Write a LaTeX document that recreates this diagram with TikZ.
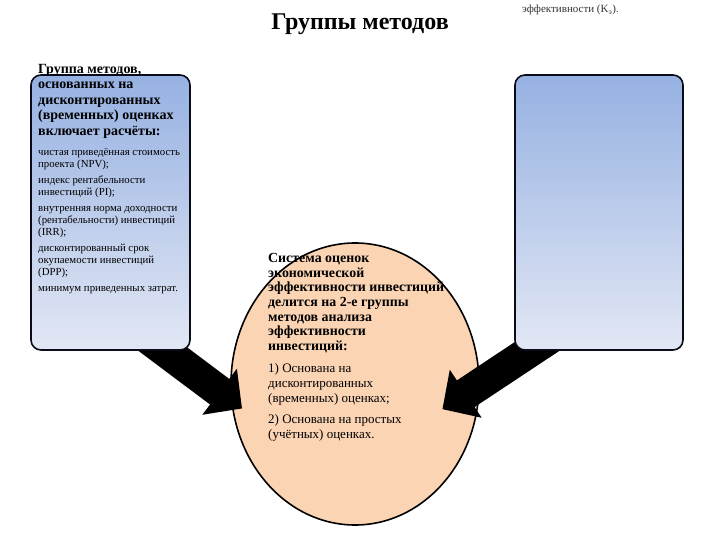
\documentclass[tikz,border=0pt]{standalone}
\usepackage{fontspec}
\setmainfont{Liberation Serif}
\usetikzlibrary{arrows.meta,shapes.geometric}
\definecolor{boxtop}{RGB}{150,177,226}
\definecolor{boxbot}{RGB}{226,231,244}
\definecolor{peach}{RGB}{251,212,180}
\definecolor{frame}{RGB}{10,12,25}
\begin{document}
\begin{tikzpicture}[x=1pt,y=-1pt,
  panel/.style={draw=frame, line width=1.6pt, rounded corners=10pt,
    top color=boxtop, bottom color=boxbot, inner sep=0pt},
  bigtext/.style={anchor=north west, align=left, inner sep=0pt,
    font=\fontsize{13}{15}\selectfont},
  smalltext/.style={anchor=north west, align=left, inner sep=0pt,
    font=\fontsize{10.8}{12}\selectfont},
  blockarrow/.style={line width=32pt, draw=black,
    -{Triangle[length=28pt,width=56pt]}}]
\useasboundingbox (0,0) rectangle (720,540);

% central ellipse
\node[draw=black, line width=1.6pt, fill=peach, ellipse, minimum width=248pt,
  minimum height=282pt, inner sep=0pt] (ell) at (355,384) {};

% arrows
\coordinate (la0) at (146,336.5);
\coordinate (la1) at (242,408.5);
\coordinate (ra0) at (553.6,335.5);
\coordinate (ra1) at (442.4,409.2);
\draw[blockarrow] (la0) -- (la1);
\draw[blockarrow] (ra0) -- (ra1);

% boxes
\node[panel, minimum width=159pt, minimum height=275pt] (lbox) at (110.5,212.5) {};
\node[panel, minimum width=168pt, minimum height=275pt] (rbox) at (599,212.5) {};

% title
\node[anchor=base, inner sep=0pt, font=\bfseries\fontsize{24}{28}\selectfont]
  (title) at (360,30) {Группы методов};
\node[anchor=base west, inner sep=0pt, text=black!80, font=\fontsize{11}{13}\selectfont]
  (corner) at (522,13) {эффективности (K\textsubscript{э}).};

% left box text
\node[bigtext, font=\bfseries\fontsize{14}{15.5}\selectfont] (lhead) at (38,64)
  {Группа методов,\\основанных на\\дисконтированных\\(временных) оценках\\включает расчёты:};
\node[smalltext] (llist) at (38,148)
  {чистая приведённая стоимость\\проекта (NPV);\\[4pt]
   индекс рентабельности\\инвестиций (PI);\\[4pt]
   внутренняя норма доходности\\(рентабельности) инвестиций\\(IRR);\\[4pt]
   дисконтированный срок\\окупаемости инвестиций\\(DPP);\\[4pt]
   минимум приведенных затрат.};

% ellipse text
\node[bigtext, font=\bfseries\fontsize{13.9}{14.7}\selectfont] (ehead) at (268,253)
  {Система оценок\\экономической\\эффективности инвестиций\\делится на 2-е группы\\методов анализа\\эффективности\\инвестиций:};
\node[bigtext] (elist) at (268,363)
  {1) Основана на\\дисконтированных\\(временных) оценках;\\[6pt]
   2) Основана на простых\\(учётных) оценках.};
\end{tikzpicture}
\end{document}
